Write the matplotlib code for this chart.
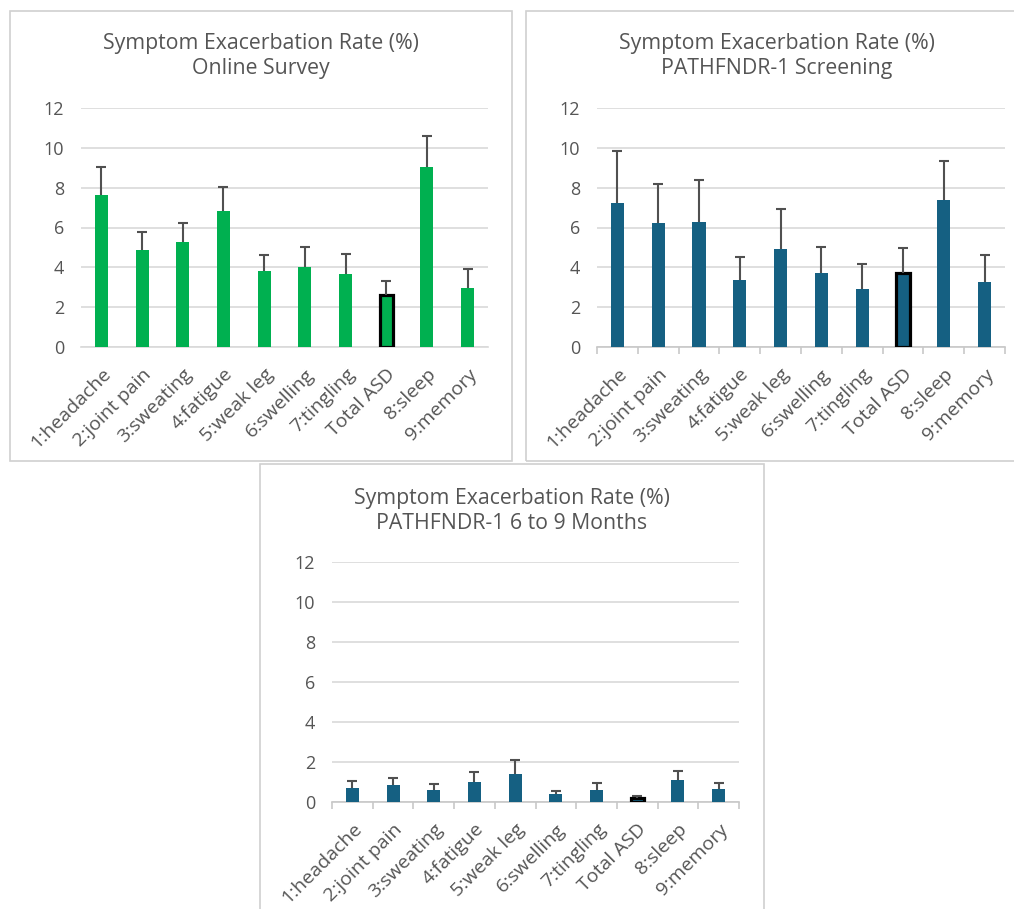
import numpy as np
import matplotlib
matplotlib.use("Agg")
import matplotlib.pyplot as plt
from matplotlib.patches import Rectangle

plt.rcParams['font.family'] = ['Open Sans', 'DejaVu Sans']

#-----------------------------------------------------------------------
# Data
categories = ["1:headache", "2:joint pain", "3:sweating", "4:fatigue", "5:weak leg",
              "6:swelling", "7:tingling", "Total ASD", "8:sleep", "9:memory"]

online_rate = [7.65, 4.85, 5.25, 6.85, 3.8, 4.0, 3.65, 2.6, 9.05, 2.98]
online_err = [1.4, 0.9, 1.0, 1.18, 0.8, 1.0, 1.0, 0.7, 1.55, 0.95]

screen_rate = [7.22, 6.25, 6.3, 3.38, 4.9, 3.7, 2.92, 3.7, 7.4, 3.24]
screen_err = [2.6, 1.92, 2.08, 1.12, 2.02, 1.32, 1.25, 1.27, 1.92, 1.36]

month_rate = [0.7, 0.84, 0.62, 1.0, 1.42, 0.38, 0.6, 0.2, 1.09, 0.64]
month_err = [0.34, 0.36, 0.27, 0.5, 0.7, 0.17, 0.37, 0.12, 0.47, 0.33]

yticks = [0, 2, 4, 6, 8, 10, 12]
total_idx = categories.index("Total ASD")

green = "#00B050"
blue = "#156082"
txt_col = "#555555"
err_col = "#505050"
grid_col = "#D9D9D9"

W, H = 1014, 909
fig = plt.figure(figsize=(W / 100, H / 100), dpi=100)


def px_box(x0, y0, x1, y1):
    # pixel box (top-left origin) -> figure fraction [l, b, w, h]
    return [x0 / W, 1 - y1 / H, (x1 - x0) / W, (y1 - y0) / H]


def panel(frame, axbox, title_xy, values, errs, color, subtitle, boundary_ticks):
    # cadre gris autour du graphique
    l, b, w, h = px_box(*frame)
    fig.add_artist(Rectangle((l, b), w, h, transform=fig.transFigure,
                             fill=False, edgecolor="#D0D0D0", linewidth=1.2))
    fig.text(title_xy[0] / W, 1 - title_xy[1] / H,
             "Symptom Exacerbation Rate (%)\n" + subtitle,
             ha="center", va="center", fontsize=15.3, color=txt_col, linespacing=1.3)

    ax = fig.add_axes(px_box(*axbox))
    x = np.arange(len(values))
    edges = ["none"] * len(values)
    lws = [0] * len(values)
    edges[total_idx] = "black"
    lws[total_idx] = 2.3
    ax.bar(x, values, width=0.32, color=color, edgecolor=edges, linewidth=lws, zorder=3)
    eb = ax.errorbar(x, values, yerr=[np.zeros(len(errs)), errs], fmt="none",
                     ecolor=err_col, elinewidth=1.5, capsize=3.6, capthick=1.5, zorder=4)
    # pas de capuchon en bas (barres d'erreur positives seulement)
    eb[1][0].set_visible(False)

    ax.set_xlim(-0.5, len(values) - 0.5)
    ax.set_ylim(0, 12)
    ax.set_yticks(yticks)
    ax.yaxis.grid(True, color=grid_col, linewidth=1.2, zorder=0)
    ax.set_axisbelow(True)
    for s in ["top", "right", "left"]:
        ax.spines[s].set_visible(False)
    ax.spines["bottom"].set_color("#C8C8C8" if boundary_ticks else grid_col)
    ax.spines["bottom"].set_linewidth(1.2)
    ax.tick_params(axis="y", length=0, pad=12, labelsize=13, labelcolor=txt_col)
    ax.set_xticks(x)
    ax.set_xticklabels(categories, rotation=45, ha="right", va="top",
                       rotation_mode="anchor", fontsize=14, color=txt_col)
    ax.tick_params(axis="x", length=0, pad=13)
    if boundary_ticks:
        ax.set_xticks(np.arange(-0.5, len(values)), minor=True)
        ax.tick_params(axis="x", which="minor", length=5, width=1.2, color="#C8C8C8")
    return ax


panel((10, 11, 512, 461), (81, 108, 488, 347), (261, 56),
      online_rate, online_err, green, "Online Survey", False)
panel((526, 11, 1030, 461), (597, 108, 1005, 347), (777, 56),
      screen_rate, screen_err, blue, "PATHFNDR-1 Screening", True)
panel((260, 464, 764, 912), (332, 562, 739, 802), (512, 511),
      month_rate, month_err, blue, "PATHFNDR-1 6 to 9 Months", True)

fig.savefig("out.png", dpi=100, facecolor="white")
